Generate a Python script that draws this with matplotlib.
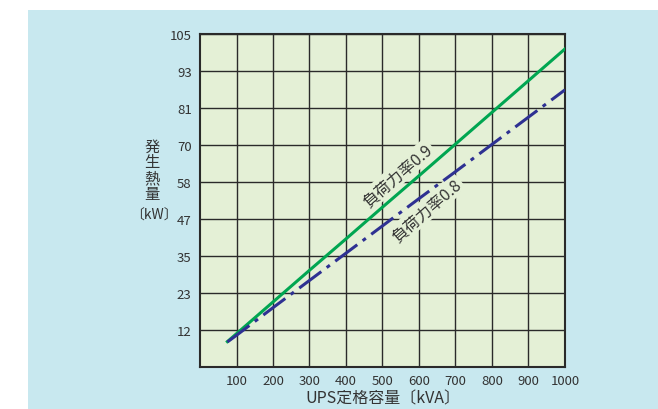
import matplotlib.pyplot as plt
from matplotlib.patches import Rectangle

plt.rcParams['font.family'] = ['Noto Sans CJK JP', 'DejaVu Sans']

# UPS rated capacity [kVA] and generated heat [kW]
kva = [75, 100, 200, 300, 400, 500, 600, 700, 800, 900, 1000]
heat_pf09 = [8.0, 10.5, 20.5, 30.5, 40.4, 50.4, 60.3, 70.3, 80.3, 90.3, 100.3]
heat_pf08 = [7.9, 10.0, 18.7, 27.3, 35.9, 44.5, 53.1, 61.6, 70.2, 78.8, 87.4]

x_ticks = [100, 200, 300, 400, 500, 600, 700, 800, 900, 1000]
y_ticks = [105 * i / 9 for i in range(1, 10)]
y_labels = ['12', '23', '35', '47', '58', '70', '81', '93', '105']

BG = '#c8e8ef'
PLOT_BG = '#e4f0d6'
GREEN = '#00a651'
BLUE = '#2e3192'
TXT = '#333333'

fig = plt.figure(figsize=(6.58, 4.1), dpi=100)
bg = Rectangle((28 / 658, 0), 1, 1 - 11 / 410, transform=fig.transFigure,
               facecolor=BG, edgecolor='none', zorder=-10)
fig.add_artist(bg)

ax = fig.add_axes([200 / 658, 42 / 410, 365 / 658, 333 / 410])
ax.set_facecolor(PLOT_BG)
ax.set_xlim(0, 1000)
ax.set_ylim(0, 105)

ax.set_axisbelow(True)
ax.grid(True, color='#2a2a2a', linewidth=1.0)
ax.set_xticks(x_ticks)
ax.set_xticklabels([str(v) for v in x_ticks])
ax.set_yticks(y_ticks)
ax.set_yticklabels(y_labels)
ax.tick_params(length=0, labelsize=9.5, labelcolor=TXT, pad=6)
ax.tick_params(axis='x', pad=5)
for s in ax.spines.values():
    s.set_color('#2a2a2a')
    s.set_linewidth(1.5)

ax.plot(kva, heat_pf09, color=GREEN, linewidth=2.2, zorder=3)
ax.plot(kva, heat_pf08, color=BLUE, linewidth=2.2, zorder=3,
        linestyle=(0, (9, 2.2, 1.3, 2.2)))

ax.text(540, 60.5, '負荷力率0.9', rotation=41, rotation_mode='anchor', ha='center', va='center',
        fontsize=11.5, color=TXT, zorder=2,
        bbox=dict(facecolor=PLOT_BG, edgecolor='none', pad=1.5))
ax.text(620, 49.5, '負荷力率0.8', rotation=41, rotation_mode='anchor', ha='center', va='center',
        fontsize=11.5, color=TXT, zorder=2,
        bbox=dict(facecolor=PLOT_BG, edgecolor='none', pad=1.5))

ax.set_xlabel('UPS定格容量〔kVA〕', fontsize=11.5, color=TXT, labelpad=2)

for i, ch in enumerate('発生熱量'):
    fig.text(152 / 658, 1 - (147 + 16 * i) / 410, ch, ha='center', va='center',
             fontsize=11, color=TXT)
fig.text(154 / 658, 1 - 216 / 410, '〔kW〕', ha='center', va='center', fontsize=10, color=TXT)

fig.savefig('out.png', dpi=100)
